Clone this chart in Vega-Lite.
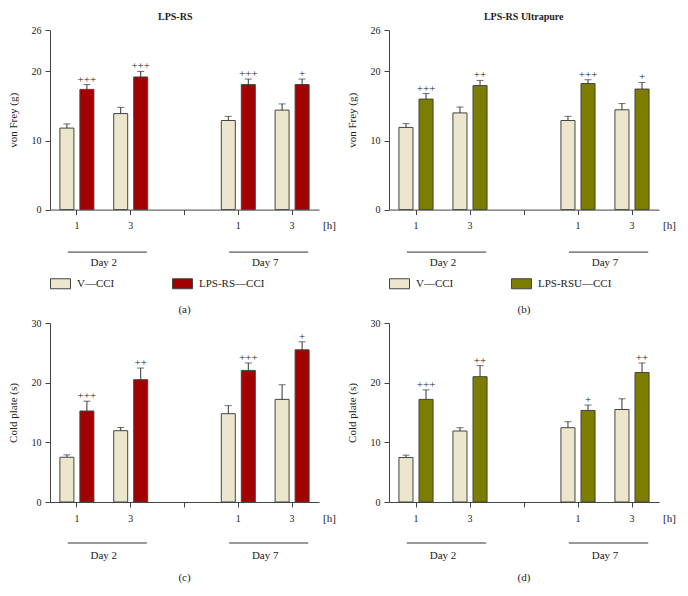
{
  "$schema": "https://vega.github.io/schema/vega-lite/v6.json",
  "padding": {"left": 7, "top": 12, "right": 5, "bottom": 5},
  "config": {
    "font": "Liberation Serif",
    "view": {"stroke": null},
    "axis": {"grid": false, "domainColor": "#444", "tickColor": "#444", "labelColor": "#222", "titleColor": "#222", "labelFont": "Liberation Serif", "titleFont": "Liberation Serif", "labelFontSize": 10, "titleFontSize": 11, "titleFontWeight": "normal", "tickSize": 5, "labelPadding": 4},
    "axisX": {"labelPadding": 6},
    "title": {"font": "Liberation Serif", "fontSize": 10, "fontWeight": "bold", "color": "#222"},
    "legend": {"labelFont": "Liberation Serif", "labelFontSize": 11, "labelColor": "#222"},
    "text": {"font": "Liberation Serif"}
  },
  "datasets": {
    "bars": [
      {"panel": "a", "slot": "D2 1", "group": "V—CCI", "mean": 11.8, "upper": 12.4, "sig": ""},
      {"panel": "a", "slot": "D2 1", "group": "LPS-RS—CCI", "mean": 17.4, "upper": 18.1, "sig": "+++"},
      {"panel": "a", "slot": "D2 3", "group": "V—CCI", "mean": 13.9, "upper": 14.8, "sig": ""},
      {"panel": "a", "slot": "D2 3", "group": "LPS-RS—CCI", "mean": 19.2, "upper": 20.0, "sig": "+++"},
      {"panel": "a", "slot": "D7 1", "group": "V—CCI", "mean": 12.9, "upper": 13.5, "sig": ""},
      {"panel": "a", "slot": "D7 1", "group": "LPS-RS—CCI", "mean": 18.1, "upper": 18.9, "sig": "+++"},
      {"panel": "a", "slot": "D7 3", "group": "V—CCI", "mean": 14.4, "upper": 15.3, "sig": ""},
      {"panel": "a", "slot": "D7 3", "group": "LPS-RS—CCI", "mean": 18.1, "upper": 18.9, "sig": "+"},
      {"panel": "b", "slot": "D2 1", "group": "V—CCI", "mean": 11.9, "upper": 12.45, "sig": ""},
      {"panel": "b", "slot": "D2 1", "group": "LPS-RSU—CCI", "mean": 16.0, "upper": 16.8, "sig": "+++"},
      {"panel": "b", "slot": "D2 3", "group": "V—CCI", "mean": 14.0, "upper": 14.85, "sig": ""},
      {"panel": "b", "slot": "D2 3", "group": "LPS-RSU—CCI", "mean": 17.95, "upper": 18.7, "sig": "++"},
      {"panel": "b", "slot": "D7 1", "group": "V—CCI", "mean": 12.9, "upper": 13.5, "sig": ""},
      {"panel": "b", "slot": "D7 1", "group": "LPS-RSU—CCI", "mean": 18.25, "upper": 18.8, "sig": "+++"},
      {"panel": "b", "slot": "D7 3", "group": "V—CCI", "mean": 14.45, "upper": 15.35, "sig": ""},
      {"panel": "b", "slot": "D7 3", "group": "LPS-RSU—CCI", "mean": 17.45, "upper": 18.4, "sig": "+"},
      {"panel": "c", "slot": "D2 1", "group": "V—CCI", "mean": 7.5, "upper": 7.9, "sig": ""},
      {"panel": "c", "slot": "D2 1", "group": "LPS-RS—CCI", "mean": 15.25, "upper": 16.9, "sig": "+++"},
      {"panel": "c", "slot": "D2 3", "group": "V—CCI", "mean": 11.95, "upper": 12.5, "sig": ""},
      {"panel": "c", "slot": "D2 3", "group": "LPS-RS—CCI", "mean": 20.5, "upper": 22.45, "sig": "++"},
      {"panel": "c", "slot": "D7 1", "group": "V—CCI", "mean": 14.8, "upper": 16.15, "sig": ""},
      {"panel": "c", "slot": "D7 1", "group": "LPS-RS—CCI", "mean": 22.05, "upper": 23.3, "sig": "+++"},
      {"panel": "c", "slot": "D7 3", "group": "V—CCI", "mean": 17.2, "upper": 19.65, "sig": ""},
      {"panel": "c", "slot": "D7 3", "group": "LPS-RS—CCI", "mean": 25.5, "upper": 26.85, "sig": "+"},
      {"panel": "d", "slot": "D2 1", "group": "V—CCI", "mean": 7.45, "upper": 7.85, "sig": ""},
      {"panel": "d", "slot": "D2 1", "group": "LPS-RSU—CCI", "mean": 17.2, "upper": 18.8, "sig": "+++"},
      {"panel": "d", "slot": "D2 3", "group": "V—CCI", "mean": 11.9, "upper": 12.45, "sig": ""},
      {"panel": "d", "slot": "D2 3", "group": "LPS-RSU—CCI", "mean": 21.0, "upper": 22.85, "sig": "++"},
      {"panel": "d", "slot": "D7 1", "group": "V—CCI", "mean": 12.45, "upper": 13.45, "sig": ""},
      {"panel": "d", "slot": "D7 1", "group": "LPS-RSU—CCI", "mean": 15.35, "upper": 16.25, "sig": "+"},
      {"panel": "d", "slot": "D7 3", "group": "V—CCI", "mean": 15.5, "upper": 17.3, "sig": ""},
      {"panel": "d", "slot": "D7 3", "group": "LPS-RSU—CCI", "mean": 21.7, "upper": 23.3, "sig": "++"}
    ],
    "days": [
      {"day": "Day 2", "from": "D2 1", "to": "D2 3"},
      {"day": "Day 7", "from": "D7 1", "to": "D7 3"}
    ]
  },
  "spacing": 10,
  "resolve": {"scale": {"x": "independent", "y": "independent", "color": "independent", "xOffset": "independent"}, "legend": {"color": "independent"}},
  "hconcat": [
    {
      "title": {"text": "LPS-RS", "offset": 3, "anchor": "middle", "dx": 4},
      "spacing": 3,
      "resolve": {"scale": {"x": "independent", "y": "independent", "color": "independent", "xOffset": "independent"}, "legend": {"color": "independent"}},
      "vconcat": [
        {
          "width": 269, "height": 179.6,
          "title": {"text": "(a)", "orient": "bottom", "offset": 13, "fontSize": 11, "fontWeight": "normal"},
          "layer": [
            {
              "data": {"name": "bars"},
              "transform": [{"filter": "datum.panel == 'a'"}],
              "encoding": {
                "x": {"field": "slot", "type": "nominal", "title": "[h]", "scale": {"domain": ["D2 1", "D2 3", "gap", "D7 1", "D7 3"], "paddingInner": 0, "paddingOuter": 0}, "axis": {"labelAngle": 0, "labelExpr": "datum.value == 'gap' ? '' : slice(datum.value, 3)", "titleX": 279, "titleY": 16, "titleBaseline": "middle", "titleAlign": "center", "titleFontSize": 11}},
                "xOffset": {"field": "group", "type": "nominal", "scale": {"domain": ["V—CCI", "LPS-RS—CCI"], "paddingInner": 0.3, "paddingOuter": 0.495}},
                "y": {"field": "mean", "type": "quantitative", "title": "von Frey (g)", "scale": {"domain": [0, 26], "nice": false}, "axis": {"values": [0, 10, 20, 26], "titlePadding": 13}}
              },
              "layer": [
                {"mark": {"type": "bar", "stroke": "#444", "strokeWidth": 1},
                 "encoding": {"color": {"field": "group", "type": "nominal", "scale": {"domain": ["V—CCI", "LPS-RS—CCI"], "range": ["#ECE6CD", "#A30000"]},
                   "legend": {"orient": "none", "legendX": 0, "legendY": 243, "direction": "horizontal", "title": null, "symbolType": "M-1,-0.5H1V0.5H-1Z", "symbolSize": 400, "symbolStrokeColor": "#444", "symbolStrokeWidth": 1, "symbolOpacity": 1, "labelOffset": 6, "columnPadding": 55}}}},
                {"mark": {"type": "rule", "color": "#333", "strokeWidth": 1}, "encoding": {"y2": {"field": "upper"}}},
                {"mark": {"type": "tick", "color": "#333", "size": 7, "thickness": 1}, "encoding": {"y": {"field": "upper", "type": "quantitative", "title": "von Frey (g)"}}},
                {"mark": {"type": "text", "baseline": "alphabetic", "dy": -2, "fontSize": 11, "fill": "#222"}, "encoding": {"y": {"field": "upper", "type": "quantitative", "title": "von Frey (g)"}, "text": {"field": "sig"}}}
              ]
            },
            {
              "data": {"name": "days"},
              "mark": {"type": "rule", "color": "#333", "strokeWidth": 1},
              "encoding": {"x": {"field": "from", "type": "nominal", "bandPosition": 0.33, "title": "[h]"}, "x2": {"field": "to", "bandPosition": 0.8}, "y": {"datum": -6.15}}
            },
            {
              "data": {"name": "days"},
              "mark": {"type": "text", "fontSize": 11, "fill": "#222", "baseline": "middle"},
              "encoding": {"x": {"field": "to", "type": "nominal", "bandPosition": 0, "title": "[h]"}, "y": {"datum": -7.7}, "text": {"field": "day"}}
            }
          ]
        },
        {
          "width": 269, "height": 179,
          "title": {"text": "(c)", "orient": "bottom", "offset": 11, "fontSize": 11, "fontWeight": "normal"},
          "layer": [
            {
              "data": {"name": "bars"},
              "transform": [{"filter": "datum.panel == 'c'"}],
              "encoding": {
                "x": {"field": "slot", "type": "nominal", "title": "[h]", "scale": {"domain": ["D2 1", "D2 3", "gap", "D7 1", "D7 3"], "paddingInner": 0, "paddingOuter": 0}, "axis": {"labelAngle": 0, "labelExpr": "datum.value == 'gap' ? '' : slice(datum.value, 3)", "titleX": 279, "titleY": 16, "titleBaseline": "middle", "titleAlign": "center", "titleFontSize": 11}},
                "xOffset": {"field": "group", "type": "nominal", "scale": {"domain": ["V—CCI", "LPS-RS—CCI"], "paddingInner": 0.3, "paddingOuter": 0.495}},
                "y": {"field": "mean", "type": "quantitative", "title": "Cold plate (s)", "scale": {"domain": [0, 30], "nice": false}, "axis": {"values": [0, 10, 20, 30], "titlePadding": 13}}
              },
              "layer": [
                {"mark": {"type": "bar", "stroke": "#444", "strokeWidth": 1},
                 "encoding": {"color": {"field": "group", "type": "nominal", "scale": {"domain": ["V—CCI", "LPS-RS—CCI"], "range": ["#ECE6CD", "#A30000"]}, "legend": null}}},
                {"mark": {"type": "rule", "color": "#333", "strokeWidth": 1}, "encoding": {"y2": {"field": "upper"}}},
                {"mark": {"type": "tick", "color": "#333", "size": 7, "thickness": 1}, "encoding": {"y": {"field": "upper", "type": "quantitative", "title": "Cold plate (s)"}}},
                {"mark": {"type": "text", "baseline": "alphabetic", "dy": -2, "fontSize": 11, "fill": "#222"}, "encoding": {"y": {"field": "upper", "type": "quantitative", "title": "Cold plate (s)"}, "text": {"field": "sig"}}}
              ]
            },
            {
              "data": {"name": "days"},
              "mark": {"type": "rule", "color": "#333", "strokeWidth": 1},
              "encoding": {"x": {"field": "from", "type": "nominal", "bandPosition": 0.33, "title": "[h]"}, "x2": {"field": "to", "bandPosition": 0.8}, "y": {"datum": -6.87}}
            },
            {
              "data": {"name": "days"},
              "mark": {"type": "text", "fontSize": 11, "fill": "#222", "baseline": "middle"},
              "encoding": {"x": {"field": "to", "type": "nominal", "bandPosition": 0, "title": "[h]"}, "y": {"datum": -9.1}, "text": {"field": "day"}}
            }
          ]
        }
      ]
    },
    {
      "title": {"text": "LPS-RS Ultrapure", "offset": 3, "anchor": "middle", "dx": 13},
      "spacing": 3,
      "resolve": {"scale": {"x": "independent", "y": "independent", "color": "independent", "xOffset": "independent"}, "legend": {"color": "independent"}},
      "vconcat": [
        {
          "width": 270, "height": 179.6,
          "title": {"text": "(b)", "orient": "bottom", "offset": 13, "fontSize": 11, "fontWeight": "normal"},
          "layer": [
            {
              "data": {"name": "bars"},
              "transform": [{"filter": "datum.panel == 'b'"}],
              "encoding": {
                "x": {"field": "slot", "type": "nominal", "title": "[h]", "scale": {"domain": ["D2 1", "D2 3", "gap", "D7 1", "D7 3"], "paddingInner": 0, "paddingOuter": 0}, "axis": {"labelAngle": 0, "labelExpr": "datum.value == 'gap' ? '' : slice(datum.value, 3)", "titleX": 280, "titleY": 16, "titleBaseline": "middle", "titleAlign": "center", "titleFontSize": 11}},
                "xOffset": {"field": "group", "type": "nominal", "scale": {"domain": ["V—CCI", "LPS-RSU—CCI"], "paddingInner": 0.3, "paddingOuter": 0.495}},
                "y": {"field": "mean", "type": "quantitative", "title": "von Frey (g)", "scale": {"domain": [0, 26], "nice": false}, "axis": {"values": [0, 10, 20, 26], "titlePadding": 13}}
              },
              "layer": [
                {"mark": {"type": "bar", "stroke": "#444", "strokeWidth": 1},
                 "encoding": {"color": {"field": "group", "type": "nominal", "scale": {"domain": ["V—CCI", "LPS-RSU—CCI"], "range": ["#ECE6CD", "#7C7C00"]},
                   "legend": {"orient": "none", "legendX": 0, "legendY": 243, "direction": "horizontal", "title": null, "symbolType": "M-1,-0.5H1V0.5H-1Z", "symbolSize": 400, "symbolStrokeColor": "#444", "symbolStrokeWidth": 1, "symbolOpacity": 1, "labelOffset": 6, "columnPadding": 55}}}},
                {"mark": {"type": "rule", "color": "#333", "strokeWidth": 1}, "encoding": {"y2": {"field": "upper"}}},
                {"mark": {"type": "tick", "color": "#333", "size": 7, "thickness": 1}, "encoding": {"y": {"field": "upper", "type": "quantitative", "title": "von Frey (g)"}}},
                {"mark": {"type": "text", "baseline": "alphabetic", "dy": -2, "fontSize": 11, "fill": "#222"}, "encoding": {"y": {"field": "upper", "type": "quantitative", "title": "von Frey (g)"}, "text": {"field": "sig"}}}
              ]
            },
            {
              "data": {"name": "days"},
              "mark": {"type": "rule", "color": "#333", "strokeWidth": 1},
              "encoding": {"x": {"field": "from", "type": "nominal", "bandPosition": 0.33, "title": "[h]"}, "x2": {"field": "to", "bandPosition": 0.8}, "y": {"datum": -6.15}}
            },
            {
              "data": {"name": "days"},
              "mark": {"type": "text", "fontSize": 11, "fill": "#222", "baseline": "middle"},
              "encoding": {"x": {"field": "to", "type": "nominal", "bandPosition": 0, "title": "[h]"}, "y": {"datum": -7.7}, "text": {"field": "day"}}
            }
          ]
        },
        {
          "width": 270, "height": 179,
          "title": {"text": "(d)", "orient": "bottom", "offset": 11, "fontSize": 11, "fontWeight": "normal"},
          "layer": [
            {
              "data": {"name": "bars"},
              "transform": [{"filter": "datum.panel == 'd'"}],
              "encoding": {
                "x": {"field": "slot", "type": "nominal", "title": "[h]", "scale": {"domain": ["D2 1", "D2 3", "gap", "D7 1", "D7 3"], "paddingInner": 0, "paddingOuter": 0}, "axis": {"labelAngle": 0, "labelExpr": "datum.value == 'gap' ? '' : slice(datum.value, 3)", "titleX": 280, "titleY": 16, "titleBaseline": "middle", "titleAlign": "center", "titleFontSize": 11}},
                "xOffset": {"field": "group", "type": "nominal", "scale": {"domain": ["V—CCI", "LPS-RSU—CCI"], "paddingInner": 0.3, "paddingOuter": 0.495}},
                "y": {"field": "mean", "type": "quantitative", "title": "Cold plate (s)", "scale": {"domain": [0, 30], "nice": false}, "axis": {"values": [0, 10, 20, 30], "titlePadding": 13}}
              },
              "layer": [
                {"mark": {"type": "bar", "stroke": "#444", "strokeWidth": 1},
                 "encoding": {"color": {"field": "group", "type": "nominal", "scale": {"domain": ["V—CCI", "LPS-RSU—CCI"], "range": ["#ECE6CD", "#7C7C00"]}, "legend": null}}},
                {"mark": {"type": "rule", "color": "#333", "strokeWidth": 1}, "encoding": {"y2": {"field": "upper"}}},
                {"mark": {"type": "tick", "color": "#333", "size": 7, "thickness": 1}, "encoding": {"y": {"field": "upper", "type": "quantitative", "title": "Cold plate (s)"}}},
                {"mark": {"type": "text", "baseline": "alphabetic", "dy": -2, "fontSize": 11, "fill": "#222"}, "encoding": {"y": {"field": "upper", "type": "quantitative", "title": "Cold plate (s)"}, "text": {"field": "sig"}}}
              ]
            },
            {
              "data": {"name": "days"},
              "mark": {"type": "rule", "color": "#333", "strokeWidth": 1},
              "encoding": {"x": {"field": "from", "type": "nominal", "bandPosition": 0.33, "title": "[h]"}, "x2": {"field": "to", "bandPosition": 0.8}, "y": {"datum": -6.87}}
            },
            {
              "data": {"name": "days"},
              "mark": {"type": "text", "fontSize": 11, "fill": "#222", "baseline": "middle"},
              "encoding": {"x": {"field": "to", "type": "nominal", "bandPosition": 0, "title": "[h]"}, "y": {"datum": -9.1}, "text": {"field": "day"}}
            }
          ]
        }
      ]
    }
  ]
}
